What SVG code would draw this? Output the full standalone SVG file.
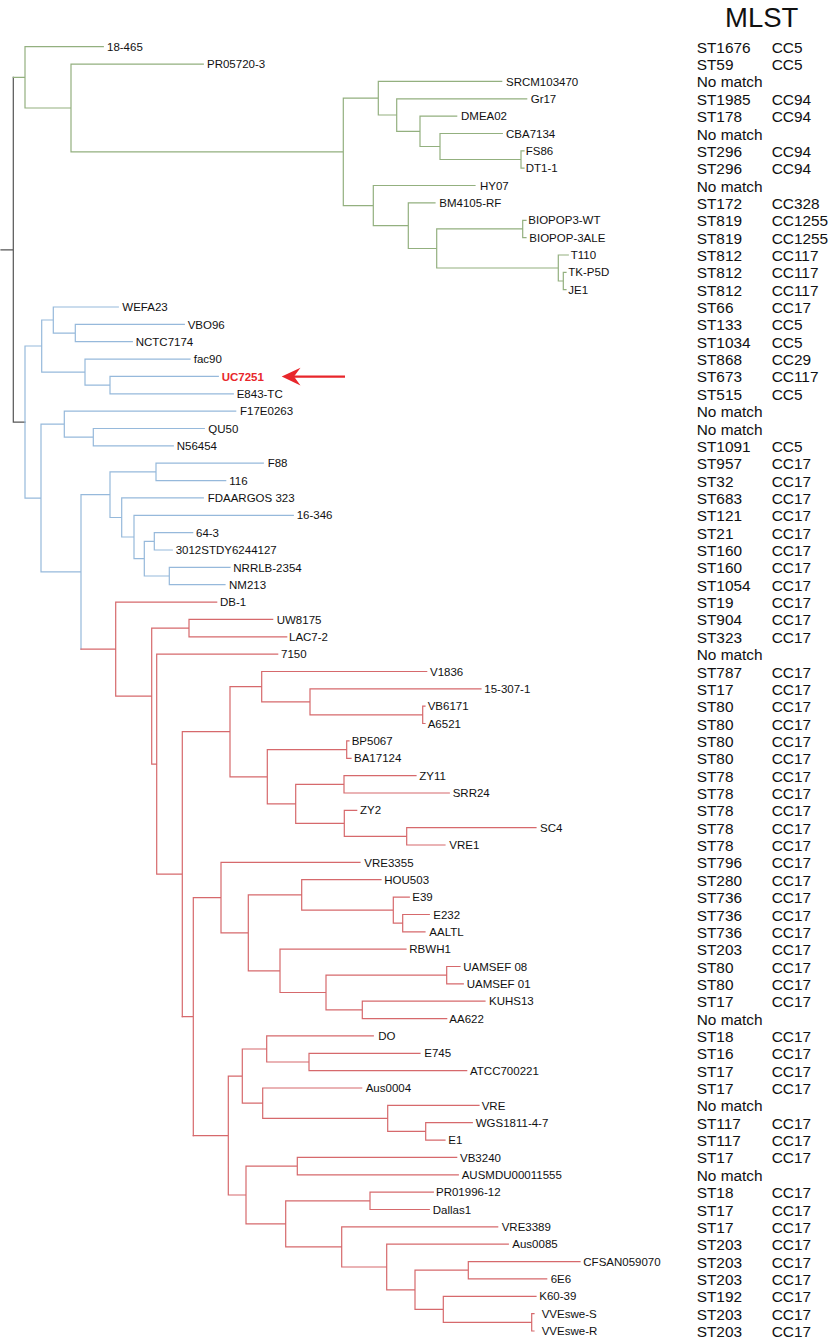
<svg xmlns="http://www.w3.org/2000/svg" width="834" height="1339" viewBox="0 0 834 1339">
<style>
.lbl{font-family:"Liberation Sans",Arial,sans-serif;font-size:11.5px;fill:#111}
.hl{font-family:"Liberation Sans",Arial,sans-serif;font-size:11.5px;fill:#e8262b;font-weight:bold}
.ml{font-family:"Liberation Sans",Arial,sans-serif;font-size:15.4px;fill:#111}
.ttl{font-family:"Liberation Sans",Arial,sans-serif;font-size:27.5px;fill:#111}
.br{fill:none;stroke-width:1.2;stroke-linecap:square}
.g{stroke:#93b07f}.b{stroke:#96b9db}.r{stroke:#d6696c}.k{stroke:#555}
</style>
<rect width="834" height="1339" fill="#fff"/>
<g id="connectors">
<path class="br k" d="M1 249.8H13.3M13.3 77.4V422.1M13.3 422.1H25"/>
<path class="br g" d="M13.3 77.4H25M25 46.7V108M25 46.7H103.3M25 108H71M71 64.1V151.9M71 64.1H203.3M71 151.9H343.3M343.3 98.2V205.6M343.3 98.2H378.3M378.3 81.4V115M378.3 81.4H501.7M378.3 115H396.7M396.7 98.8V131.3M396.7 98.8H526.7M396.7 131.3H420M420 116.1V146.5M420 116.1H456.7M420 146.5H440M440 133.5V159.5M440 133.5H502.3M440 159.5H521M521 150.8V168.2M521 150.8H524M521 168.2H524M343.3 205.6H373.3M373.3 185.5V225.7M373.3 185.5H475M373.3 225.7H408.3M408.3 202.9V248.5M408.3 202.9H435M408.3 248.5H436.7M436.7 228.9V268M436.7 228.9H522.7M522.7 220.3V237.6M522.7 220.3H526M522.7 237.6H526M436.7 268H558.3M558.3 255V281M558.3 255H568.3M558.3 281H563.3M563.3 272.3V289.7M563.3 272.3H566M563.3 289.7H566"/>
<path class="br b" d="M25 346V498.2M25 346H41.7M41.7 320V372.1M41.7 320H53.3M53.3 307V333.1M53.3 307H118.3M53.3 333.1H75.3M75.3 324.4V341.7M75.3 324.4H184.3M75.3 341.7H132.3M41.7 372.1H85M85 359.1V385.1M85 359.1H190M85 385.1H110M110 376.4V393.8M110 376.4H218.3M110 393.8H233.3M25 498.2H41M41 424.2V571.9M41 424.2H64.3M64.3 411.2V437.2M64.3 411.2H235.7M64.3 437.2H93.3M93.3 428.5V445.9M93.3 428.5H204.3M93.3 445.9H173.3M41 571.9H81M81 494.7V649.1M81 494.7H110M110 471.9V517.5M110 471.9H156M156 463.2V480.6M156 463.2H263.3M156 480.6H225.7M110 517.5H121.7M121.7 497.9V537M121.7 497.9H203.3M121.7 537H134M134 515.3V558.7M134 515.3H293.3M134 558.7H144.3M144.3 541.3V576M144.3 541.3H154.3M154.3 532.6V550M154.3 532.6H192.7M154.3 550H172.3M144.3 576H169.3M169.3 567.4V584.7M169.3 567.4H230M169.3 584.7H225"/>
<path class="br r" d="M81 649.1H115.7M115.7 602.1V696.2M115.7 602.1H216.7M115.7 696.2H151.7M151.7 628.1V764.2M151.7 628.1H189M189 619.4V636.8M189 619.4H272.7M189 636.8H286.7M151.7 764.2H156.7M156.7 654.1V874.2M156.7 654.1H277.7M156.7 874.2H182.3M182.3 731.7V1016.6M182.3 731.7H230M230 686.7V776.8M230 686.7H261.7M261.7 671.5V701.9M261.7 671.5H426.7M261.7 701.9H310M310 688.8V714.9M310 688.8H481M310 714.9H422.7M422.7 706.2V723.5M422.7 706.2H425M422.7 723.5H425M230 776.8H267.3M267.3 749.6V803.9M267.3 749.6H346.7M346.7 740.9V758.3M346.7 740.9H349M346.7 758.3H351M267.3 803.9H295.7M295.7 784.3V823.4M295.7 784.3H344M344 775.6V793M344 775.6H416M344 793H449.3M295.7 823.4H344.3M344.3 810.3V836.4M344.3 810.3H356.7M344.3 836.4H406.7M406.7 827.7V845M406.7 827.7H536M406.7 845H445"/>
<path class="br r" d="M182.3 1016.6H193.3M193.3 897.6V1135.6M193.3 897.6H221M221 862.4V932.9M221 862.4H360M221 932.9H248.3M248.3 894.9V970.8M248.3 894.9H301.7M301.7 879.7V910.1M301.7 879.7H381M301.7 910.1H393.3M393.3 897.1V923.1M393.3 897.1H409.3M393.3 923.1H402.7M402.7 914.5V931.8M402.7 914.5H429.3M402.7 931.8H425M248.3 970.8H280M280 949.2V992.5M280 949.2H406M280 992.5H326M326 975.2V1009.9M326 975.2H446.7M446.7 966.5V983.9M446.7 966.5H460M446.7 983.9H463.3M326 1009.9H362.3M362.3 1001.2V1018.6M362.3 1001.2H485M362.3 1018.6H446.7"/>
<path class="br r" d="M193.3 1135.6H228.3M228.3 1076.1V1195M228.3 1076.1H242.3M242.3 1049V1103.2M242.3 1049H266.7M266.7 1035.9V1062M266.7 1035.9H373.3M266.7 1062H309M309 1053.3V1070.6M309 1053.3H420M309 1070.6H466.7M242.3 1103.2H262.7M262.7 1088V1118.4M262.7 1088H361.7M262.7 1118.4H387.7M387.7 1105.4V1131.4M387.7 1105.4H479M387.7 1131.4H425.7M425.7 1122.7V1140.1M425.7 1122.7H472.3M425.7 1140.1H445M228.3 1195H246M246 1166.1V1223.9M246 1166.1H297.3M297.3 1157.4V1174.8M297.3 1157.4H456.7M297.3 1174.8H458.3M246 1223.9H285.7M285.7 1200.8V1246.9M285.7 1200.8H370M370 1192.1V1209.5M370 1192.1H433.3M370 1209.5H429.3M285.7 1246.9H341.7M341.7 1226.8V1267M341.7 1226.8H497.7M341.7 1267H386.7M386.7 1244.2V1289.8M386.7 1244.2H508.3M386.7 1289.8H415M415 1270.2V1309.3M415 1270.2H468.3M468.3 1261.6V1278.9M468.3 1261.6H580M468.3 1278.9H546.7M415 1309.3H443.3M443.3 1296.3V1322.3M443.3 1296.3H536M443.3 1322.3H531.7M531.7 1313.6V1331M531.7 1313.6H534M531.7 1331H534"/>
</g>
<g id="arrow">
<line x1="345" y1="376.6" x2="293" y2="376.6" stroke="#e8262b" stroke-width="2.2"/>
<polygon points="281.7,376.6 300.5,367.8 294,376.6 300.5,385.4" fill="#e8262b"/>
</g>
<g id="leaves">
<g id="n-18-465"><text class="lbl" x="107" y="50.8">18-465</text></g>
<g id="n-PR05720-3"><text class="lbl" x="207" y="68.2">PR05720-3</text></g>
<g id="n-SRCM103470"><text class="lbl" x="506" y="85.5">SRCM103470</text></g>
<g id="n-Gr17"><text class="lbl" x="530.7" y="102.9">Gr17</text></g>
<g id="n-DMEA02"><text class="lbl" x="461" y="120.2">DMEA02</text></g>
<g id="n-CBA7134"><text class="lbl" x="506" y="137.6">CBA7134</text></g>
<g id="n-FS86"><text class="lbl" x="525.7" y="154.9">FS86</text></g>
<g id="n-DT1-1"><text class="lbl" x="525.7" y="172.3">DT1-1</text></g>
<g id="n-HY07"><text class="lbl" x="480" y="189.6">HY07</text></g>
<g id="n-BM4105-RF"><text class="lbl" x="439.3" y="207">BM4105-RF</text></g>
<g id="n-BIOPOP3-WT"><text class="lbl" x="528.3" y="224.4">BIOPOP3-WT</text></g>
<g id="n-BIOPOP-3ALE"><text class="lbl" x="529.3" y="241.7">BIOPOP-3ALE</text></g>
<g id="n-T110"><text class="lbl" x="570.7" y="259.1">T110</text></g>
<g id="n-TK-P5D"><text class="lbl" x="568.3" y="276.4">TK-P5D</text></g>
<g id="n-JE1"><text class="lbl" x="568.3" y="293.8">JE1</text></g>
<g id="n-WEFA23"><text class="lbl" x="122.3" y="311.1">WEFA23</text></g>
<g id="n-VBO96"><text class="lbl" x="187.7" y="328.5">VBO96</text></g>
<g id="n-NCTC7174"><text class="lbl" x="135.7" y="345.8">NCTC7174</text></g>
<g id="n-fac90"><text class="lbl" x="193.7" y="363.2">fac90</text></g>
<g id="n-UC7251"><text class="hl" x="221.7" y="380.5">UC7251</text></g>
<g id="n-E843-TC"><text class="lbl" x="236.7" y="397.9">E843-TC</text></g>
<g id="n-F17E0263"><text class="lbl" x="240" y="415.3">F17E0263</text></g>
<g id="n-QU50"><text class="lbl" x="208.3" y="432.6">QU50</text></g>
<g id="n-N56454"><text class="lbl" x="176.7" y="450">N56454</text></g>
<g id="n-F88"><text class="lbl" x="267.7" y="467.3">F88</text></g>
<g id="n-116"><text class="lbl" x="229.3" y="484.7">116</text></g>
<g id="n-FDAARGOS323"><text class="lbl" x="207.7" y="502">FDAARGOS 323</text></g>
<g id="n-16-346"><text class="lbl" x="296.7" y="519.4">16-346</text></g>
<g id="n-64-3"><text class="lbl" x="196" y="536.7">64-3</text></g>
<g id="n-3012STDY6244127"><text class="lbl" x="175.7" y="554.1">3012STDY6244127</text></g>
<g id="n-NRRLB-2354"><text class="lbl" x="233.3" y="571.5">NRRLB-2354</text></g>
<g id="n-NM213"><text class="lbl" x="229" y="588.8">NM213</text></g>
<g id="n-DB-1"><text class="lbl" x="220" y="606.2">DB-1</text></g>
<g id="n-UW8175"><text class="lbl" x="276.7" y="623.5">UW8175</text></g>
<g id="n-LAC7-2"><text class="lbl" x="289" y="640.9">LAC7-2</text></g>
<g id="n-7150"><text class="lbl" x="281" y="658.2">7150</text></g>
<g id="n-V1836"><text class="lbl" x="430" y="675.6">V1836</text></g>
<g id="n-15-307-1"><text class="lbl" x="484.3" y="692.9">15-307-1</text></g>
<g id="n-VB6171"><text class="lbl" x="427.7" y="710.3">VB6171</text></g>
<g id="n-A6521"><text class="lbl" x="427.7" y="727.6">A6521</text></g>
<g id="n-BP5067"><text class="lbl" x="351.7" y="745">BP5067</text></g>
<g id="n-BA17124"><text class="lbl" x="354" y="762.4">BA17124</text></g>
<g id="n-ZY11"><text class="lbl" x="419.3" y="779.7">ZY11</text></g>
<g id="n-SRR24"><text class="lbl" x="452.7" y="797.1">SRR24</text></g>
<g id="n-ZY2"><text class="lbl" x="360" y="814.4">ZY2</text></g>
<g id="n-SC4"><text class="lbl" x="540" y="831.8">SC4</text></g>
<g id="n-VRE1"><text class="lbl" x="449.3" y="849.1">VRE1</text></g>
<g id="n-VRE3355"><text class="lbl" x="364.3" y="866.5">VRE3355</text></g>
<g id="n-HOU503"><text class="lbl" x="384.3" y="883.8">HOU503</text></g>
<g id="n-E39"><text class="lbl" x="412.3" y="901.2">E39</text></g>
<g id="n-E232"><text class="lbl" x="433.3" y="918.6">E232</text></g>
<g id="n-AALTL"><text class="lbl" x="429.3" y="935.9">AALTL</text></g>
<g id="n-RBWH1"><text class="lbl" x="409.3" y="953.3">RBWH1</text></g>
<g id="n-UAMSEF08"><text class="lbl" x="463.3" y="970.6">UAMSEF 08</text></g>
<g id="n-UAMSEF01"><text class="lbl" x="466.7" y="988">UAMSEF 01</text></g>
<g id="n-KUHS13"><text class="lbl" x="489" y="1005.3">KUHS13</text></g>
<g id="n-AA622"><text class="lbl" x="449.3" y="1022.7">AA622</text></g>
<g id="n-DO"><text class="lbl" x="378.3" y="1040">DO</text></g>
<g id="n-E745"><text class="lbl" x="424.3" y="1057.4">E745</text></g>
<g id="n-ATCC700221"><text class="lbl" x="470" y="1074.7">ATCC700221</text></g>
<g id="n-Aus0004"><text class="lbl" x="365.7" y="1092.1">Aus0004</text></g>
<g id="n-VRE"><text class="lbl" x="481.7" y="1109.5">VRE</text></g>
<g id="n-WGS1811-4-7"><text class="lbl" x="475.7" y="1126.8">WGS1811-4-7</text></g>
<g id="n-E1"><text class="lbl" x="448.3" y="1144.2">E1</text></g>
<g id="n-VB3240"><text class="lbl" x="460" y="1161.5">VB3240</text></g>
<g id="n-AUSMDU00011555"><text class="lbl" x="461.7" y="1178.9">AUSMDU00011555</text></g>
<g id="n-PR01996-12"><text class="lbl" x="436" y="1196.2">PR01996-12</text></g>
<g id="n-Dallas1"><text class="lbl" x="432.7" y="1213.6">Dallas1</text></g>
<g id="n-VRE3389"><text class="lbl" x="501.7" y="1230.9">VRE3389</text></g>
<g id="n-Aus0085"><text class="lbl" x="512.3" y="1248.3">Aus0085</text></g>
<g id="n-CFSAN059070"><text class="lbl" x="583.3" y="1265.7">CFSAN059070</text></g>
<g id="n-6E6"><text class="lbl" x="550.7" y="1283">6E6</text></g>
<g id="n-K60-39"><text class="lbl" x="539.3" y="1300.4">K60-39</text></g>
<g id="n-VVEswe-S"><text class="lbl" x="541.7" y="1317.7">VVEswe-S</text></g>
<g id="n-VVEswe-R"><text class="lbl" x="541.7" y="1335.1">VVEswe-R</text></g>
</g>
<g id="mlst">
<text class="ttl" x="725" y="26.7">MLST</text>
<text class="ml" x="696.7" y="52.7">ST1676</text><text class="ml" x="771.7" y="52.7">CC5</text>
<text class="ml" x="696.7" y="70.1">ST59</text><text class="ml" x="771.7" y="70.1">CC5</text>
<text class="ml" x="696.7" y="87.4">No match</text>
<text class="ml" x="696.7" y="104.8">ST1985</text><text class="ml" x="771.7" y="104.8">CC94</text>
<text class="ml" x="696.7" y="122.1">ST178</text><text class="ml" x="771.7" y="122.1">CC94</text>
<text class="ml" x="696.7" y="139.5">No match</text>
<text class="ml" x="696.7" y="156.8">ST296</text><text class="ml" x="771.7" y="156.8">CC94</text>
<text class="ml" x="696.7" y="174.2">ST296</text><text class="ml" x="771.7" y="174.2">CC94</text>
<text class="ml" x="696.7" y="191.5">No match</text>
<text class="ml" x="696.7" y="208.9">ST172</text><text class="ml" x="771.7" y="208.9">CC328</text>
<text class="ml" x="696.7" y="226.3">ST819</text><text class="ml" x="771.7" y="226.3">CC1255</text>
<text class="ml" x="696.7" y="243.6">ST819</text><text class="ml" x="771.7" y="243.6">CC1255</text>
<text class="ml" x="696.7" y="261">ST812</text><text class="ml" x="771.7" y="261">CC117</text>
<text class="ml" x="696.7" y="278.3">ST812</text><text class="ml" x="771.7" y="278.3">CC117</text>
<text class="ml" x="696.7" y="295.7">ST812</text><text class="ml" x="771.7" y="295.7">CC117</text>
<text class="ml" x="696.7" y="313">ST66</text><text class="ml" x="771.7" y="313">CC17</text>
<text class="ml" x="696.7" y="330.4">ST133</text><text class="ml" x="771.7" y="330.4">CC5</text>
<text class="ml" x="696.7" y="347.7">ST1034</text><text class="ml" x="771.7" y="347.7">CC5</text>
<text class="ml" x="696.7" y="365.1">ST868</text><text class="ml" x="771.7" y="365.1">CC29</text>
<text class="ml" x="696.7" y="382.4">ST673</text><text class="ml" x="771.7" y="382.4">CC117</text>
<text class="ml" x="696.7" y="399.8">ST515</text><text class="ml" x="771.7" y="399.8">CC5</text>
<text class="ml" x="696.7" y="417.2">No match</text>
<text class="ml" x="696.7" y="434.5">No match</text>
<text class="ml" x="696.7" y="451.9">ST1091</text><text class="ml" x="771.7" y="451.9">CC5</text>
<text class="ml" x="696.7" y="469.2">ST957</text><text class="ml" x="771.7" y="469.2">CC17</text>
<text class="ml" x="696.7" y="486.6">ST32</text><text class="ml" x="771.7" y="486.6">CC17</text>
<text class="ml" x="696.7" y="503.9">ST683</text><text class="ml" x="771.7" y="503.9">CC17</text>
<text class="ml" x="696.7" y="521.3">ST121</text><text class="ml" x="771.7" y="521.3">CC17</text>
<text class="ml" x="696.7" y="538.6">ST21</text><text class="ml" x="771.7" y="538.6">CC17</text>
<text class="ml" x="696.7" y="556">ST160</text><text class="ml" x="771.7" y="556">CC17</text>
<text class="ml" x="696.7" y="573.4">ST160</text><text class="ml" x="771.7" y="573.4">CC17</text>
<text class="ml" x="696.7" y="590.7">ST1054</text><text class="ml" x="771.7" y="590.7">CC17</text>
<text class="ml" x="696.7" y="608.1">ST19</text><text class="ml" x="771.7" y="608.1">CC17</text>
<text class="ml" x="696.7" y="625.4">ST904</text><text class="ml" x="771.7" y="625.4">CC17</text>
<text class="ml" x="696.7" y="642.8">ST323</text><text class="ml" x="771.7" y="642.8">CC17</text>
<text class="ml" x="696.7" y="660.1">No match</text>
<text class="ml" x="696.7" y="677.5">ST787</text><text class="ml" x="771.7" y="677.5">CC17</text>
<text class="ml" x="696.7" y="694.8">ST17</text><text class="ml" x="771.7" y="694.8">CC17</text>
<text class="ml" x="696.7" y="712.2">ST80</text><text class="ml" x="771.7" y="712.2">CC17</text>
<text class="ml" x="696.7" y="729.5">ST80</text><text class="ml" x="771.7" y="729.5">CC17</text>
<text class="ml" x="696.7" y="746.9">ST80</text><text class="ml" x="771.7" y="746.9">CC17</text>
<text class="ml" x="696.7" y="764.3">ST80</text><text class="ml" x="771.7" y="764.3">CC17</text>
<text class="ml" x="696.7" y="781.6">ST78</text><text class="ml" x="771.7" y="781.6">CC17</text>
<text class="ml" x="696.7" y="799">ST78</text><text class="ml" x="771.7" y="799">CC17</text>
<text class="ml" x="696.7" y="816.3">ST78</text><text class="ml" x="771.7" y="816.3">CC17</text>
<text class="ml" x="696.7" y="833.7">ST78</text><text class="ml" x="771.7" y="833.7">CC17</text>
<text class="ml" x="696.7" y="851">ST78</text><text class="ml" x="771.7" y="851">CC17</text>
<text class="ml" x="696.7" y="868.4">ST796</text><text class="ml" x="771.7" y="868.4">CC17</text>
<text class="ml" x="696.7" y="885.7">ST280</text><text class="ml" x="771.7" y="885.7">CC17</text>
<text class="ml" x="696.7" y="903.1">ST736</text><text class="ml" x="771.7" y="903.1">CC17</text>
<text class="ml" x="696.7" y="920.5">ST736</text><text class="ml" x="771.7" y="920.5">CC17</text>
<text class="ml" x="696.7" y="937.8">ST736</text><text class="ml" x="771.7" y="937.8">CC17</text>
<text class="ml" x="696.7" y="955.2">ST203</text><text class="ml" x="771.7" y="955.2">CC17</text>
<text class="ml" x="696.7" y="972.5">ST80</text><text class="ml" x="771.7" y="972.5">CC17</text>
<text class="ml" x="696.7" y="989.9">ST80</text><text class="ml" x="771.7" y="989.9">CC17</text>
<text class="ml" x="696.7" y="1007.2">ST17</text><text class="ml" x="771.7" y="1007.2">CC17</text>
<text class="ml" x="696.7" y="1024.6">No match</text>
<text class="ml" x="696.7" y="1041.9">ST18</text><text class="ml" x="771.7" y="1041.9">CC17</text>
<text class="ml" x="696.7" y="1059.3">ST16</text><text class="ml" x="771.7" y="1059.3">CC17</text>
<text class="ml" x="696.7" y="1076.6">ST17</text><text class="ml" x="771.7" y="1076.6">CC17</text>
<text class="ml" x="696.7" y="1094">ST17</text><text class="ml" x="771.7" y="1094">CC17</text>
<text class="ml" x="696.7" y="1111.4">No match</text>
<text class="ml" x="696.7" y="1128.7">ST117</text><text class="ml" x="771.7" y="1128.7">CC17</text>
<text class="ml" x="696.7" y="1146.1">ST117</text><text class="ml" x="771.7" y="1146.1">CC17</text>
<text class="ml" x="696.7" y="1163.4">ST17</text><text class="ml" x="771.7" y="1163.4">CC17</text>
<text class="ml" x="696.7" y="1180.8">No match</text>
<text class="ml" x="696.7" y="1198.1">ST18</text><text class="ml" x="771.7" y="1198.1">CC17</text>
<text class="ml" x="696.7" y="1215.5">ST17</text><text class="ml" x="771.7" y="1215.5">CC17</text>
<text class="ml" x="696.7" y="1232.8">ST17</text><text class="ml" x="771.7" y="1232.8">CC17</text>
<text class="ml" x="696.7" y="1250.2">ST203</text><text class="ml" x="771.7" y="1250.2">CC17</text>
<text class="ml" x="696.7" y="1267.6">ST203</text><text class="ml" x="771.7" y="1267.6">CC17</text>
<text class="ml" x="696.7" y="1284.9">ST203</text><text class="ml" x="771.7" y="1284.9">CC17</text>
<text class="ml" x="696.7" y="1302.3">ST192</text><text class="ml" x="771.7" y="1302.3">CC17</text>
<text class="ml" x="696.7" y="1319.6">ST203</text><text class="ml" x="771.7" y="1319.6">CC17</text>
<text class="ml" x="696.7" y="1337">ST203</text><text class="ml" x="771.7" y="1337">CC17</text>
</g>
</svg>
